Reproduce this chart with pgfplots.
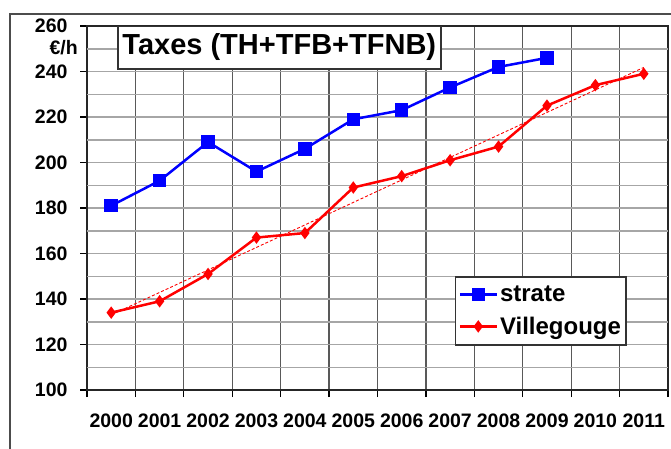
\documentclass[border=0pt]{standalone}
\usepackage{pgfplots}
\pgfplotsset{compat=1.18}
\usepackage{fontspec}
\setmainfont{Liberation Sans}
\begin{document}
\begin{tikzpicture}
\useasboundingbox (0,0) rectangle (671pt,448pt);
\fill[white] (0,0) rectangle (671pt,448pt);
\draw[black!70, line width=1.5pt] (10pt,-5pt) -- (10pt,434pt) -- (680pt,434pt);
\begin{axis}[
  at={(87pt,58pt)}, anchor=south west,
  scale only axis, width=581pt, height=364pt,
  xmin=-0.5, xmax=11.5, ymin=100, ymax=260,
  axis background/.style={fill=white},
  xtick={-0.5,0.5,1.5,2.5,3.5,4.5,5.5,6.5,7.5,8.5,9.5,10.5,11.5},
  xticklabels={},
  extra x ticks={0,1,2,3,4,5,6,7,8,9,10,11},
  extra x tick labels={2000,2001,2002,2003,2004,2005,2006,2007,2008,2009,2010,2011},
  extra x tick style={major tick length=0pt, grid=none},
  ytick={100,120,140,160,180,200,220,240,260},
  extra y ticks={110,130,150,170,190,210,230,250},
  extra y tick labels={},
  extra y tick style={major tick length=0pt},
  xmajorgrids, ymajorgrids,
  x grid style={black!65, line width=1.3pt},
  y grid style={black!35, line width=1.5pt},
  tick align=outside, xtick pos=bottom, ytick pos=left,
  major tick length=7pt,
  tick style={black, line width=1.3pt},
  axis line style={black!85, line width=1.5pt},
  /pgf/number format/assume math mode=true,
  ticklabel style={font=\fontsize{19.5}{20}\selectfont\bfseries},
  xticklabel style={yshift=-20pt},
  yticklabel style={xshift=-9pt},
  legend style={at={(0.633,0.313)}, anchor=north west, draw=black!80, line width=1.5pt, fill=white,
    font=\fontsize{24}{26}\selectfont\bfseries, inner xsep=3pt, inner ysep=7pt, row sep=10pt},
  legend cell align=left,
  legend image code/.code={\draw[mark repeat=2,mark phase=2,#1] plot coordinates {(6pt,0pt) (24.5pt,0pt) (43pt,0pt)};},
]
\addplot[blue, line width=2.5pt, mark=square*, mark size=5.5pt, mark options={solid}]
  coordinates {(0,181) (1,192) (2,209) (3,196) (4,206) (5,219) (6,223) (7,233) (8,242) (9,246)};
\addlegendentry{strate}
\addplot[red, line width=2.5pt, mark=diamond*, mark size=4.2pt, mark options={solid}]
  coordinates {(0,134) (1,139) (2,151) (3,167) (4,169) (5,189) (6,194) (7,201) (8,207) (9,225) (10,234) (11,239)};
\addlegendentry{Villegouge}
\addplot[red, line width=0.9pt, dash pattern=on 3pt off 2pt, forget plot]
  coordinates {(0,133.0) (11,241.8)};
\node[draw=black!80, line width=1.5pt, fill=white, minimum width=323pt, minimum height=43pt, inner sep=0pt,
  font=\fontsize{29}{30}\selectfont\bfseries] at (rel axis cs:0.331,0.941) {Taxes (TH+TFB+TFNB)};
\end{axis}
\node[anchor=east, font=\fontsize{19.5}{20}\selectfont\bfseries, inner sep=0pt] at (78pt,400pt) {€/h};
\end{tikzpicture}
\end{document}
